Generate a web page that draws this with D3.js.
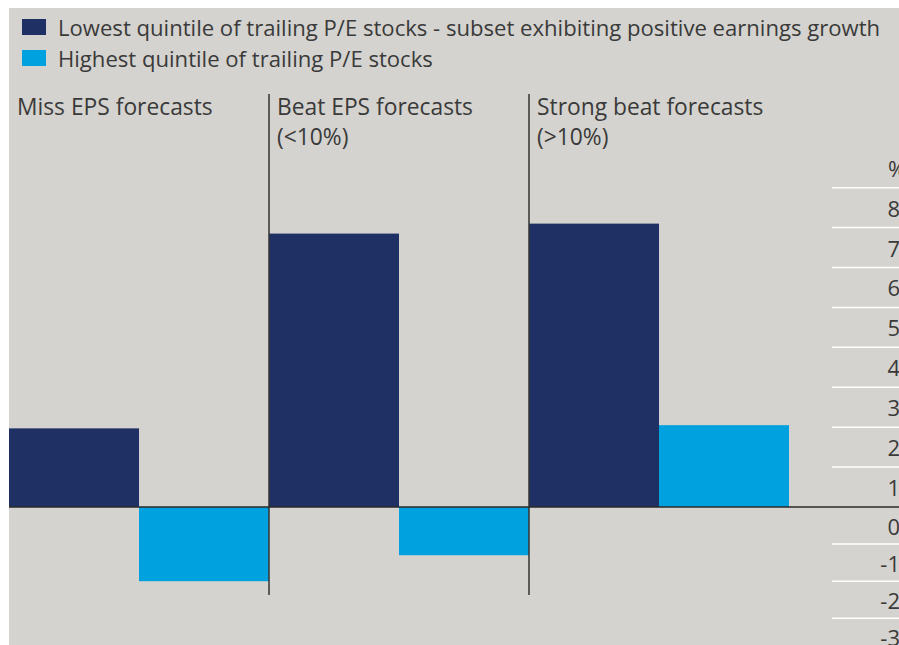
<!DOCTYPE html>
<html>
<head>
<meta charset="utf-8">
<script src="https://cdn.jsdelivr.net/npm/d3@7"></script>
<style>
  html, body { margin: 0; padding: 0; background: #ffffff; }
  svg { display: block; }
  text { font-family: "Open Sans", "Noto Sans", sans-serif; fill: #3a3a3a; }
</style>
</head>
<body>
<svg id="chart" width="899" height="645"></svg>
<script>
// ---- data ----
const categories = ["Miss EPS forecasts", "Beat EPS forecasts", "Strong beat forecasts"];
const categorySubtitles = ["", "(<10%)", "(>10%)"];
const seriesNames = [
  "Lowest quintile of trailing P/E stocks - subset exhibiting positive earnings growth",
  "Highest quintile of trailing P/E stocks"
];
const lowestPE = [1.97, 6.85, 7.1];
const highestPE = [-2.0, -1.3, 2.05];
const yTicks = [-3, -2, -1, 0, 1, 2, 3, 4, 5, 6, 7, 8];
const yUnit = "%";

// ---- setup ----
const W = 899, H = 645;
const colors = ["#1f3064", "#00a1df"];
const svg = d3.select("#chart");

svg.append("rect").attr("x", 9).attr("y", 8).attr("width", W - 9).attr("height", H - 8).attr("fill", "#d4d3cf");

const x = d3.scaleBand().domain(categories).range([9, 789]).padding(0);
const xs = d3.scaleBand().domain([0, 1]).range([0, x.bandwidth()]).padding(0);
const y = d3.scaleLinear().domain([-3, 0, 8]).range([618.3, 507, 187.7]);

// gridlines on the right
svg.append("g").selectAll("line").data(yTicks.filter(d => d !== 0)).join("line")
  .attr("x1", 832).attr("x2", W)
  .attr("y1", d => y(d)).attr("y2", d => y(d))
  .attr("stroke", "#ffffff").attr("stroke-width", 1.5);

// tick labels (sit between their gridline and the one below)
svg.append("g").selectAll("text").data(yTicks).join("text")
  .attr("x", 900).attr("y", d => (y(d) + y(d - 1)) / 2)
  .attr("text-anchor", "end").attr("dominant-baseline", "central")
  .attr("font-size", 22)
  .text(d => d);
svg.append("text").attr("x", 888).attr("y", (y(9) + y(8)) / 2)
  .attr("dominant-baseline", "central").attr("font-size", 22).text(yUnit);

// bars
const rows = categories.map((c, i) => ({ c, vals: [lowestPE[i], highestPE[i]] }));
const g = svg.append("g").selectAll("g").data(rows).join("g")
  .attr("transform", d => `translate(${x(d.c)},0)`);
g.selectAll("rect").data(d => d.vals.map((v, k) => ({ v, k }))).join("rect")
  .attr("x", d => xs(d.k)).attr("width", xs.bandwidth())
  .attr("y", d => y(Math.max(0, d.v)))
  .attr("height", d => Math.abs(y(d.v) - y(0)))
  .attr("fill", d => colors[d.k]);

// panel dividers
svg.append("g").selectAll("line").data(categories.slice(1)).join("line")
  .attr("x1", d => x(d)).attr("x2", d => x(d))
  .attr("y1", 94).attr("y2", 595)
  .attr("stroke", "#333333").attr("stroke-width", 1.5);

// zero line
svg.append("line").attr("x1", 9).attr("x2", W).attr("y1", y(0)).attr("y2", y(0))
  .attr("stroke", "#2a2a2a").attr("stroke-width", 1.5);

// panel titles
categories.forEach((c, i) => {
  const t = svg.append("text").attr("x", x(c) + 8).attr("y", 115).attr("font-size", 22.8);
  t.append("tspan").attr("x", x(c) + 8).attr("y", 115).text(c);
  if (categorySubtitles[i]) t.append("tspan").attr("x", x(c) + 8).attr("y", 145).text(categorySubtitles[i]);
});

// legend
seriesNames.forEach((s, i) => {
  const yy = 19 + i * 31;
  svg.append("rect").attr("x", 22).attr("y", yy).attr("width", 24).attr("height", 16).attr("fill", colors[i]);
  svg.append("text").attr("x", 58).attr("y", yy + 16.5).attr("font-size", 22.1).text(s);
});
</script>
</body>
</html>
